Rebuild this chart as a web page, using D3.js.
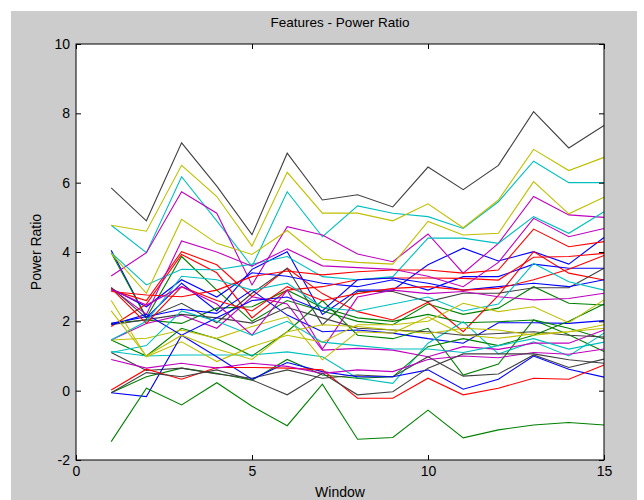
<!DOCTYPE html>
<html><head><meta charset="utf-8">
<script src="https://cdn.jsdelivr.net/npm/d3@7"></script>
<style>body{margin:0;background:#fff}svg{display:block}</style>
</head><body><div id="chart"></div>
<script>
const title = "Features - Power Ratio";
const xLabel = "Window";
const yLabel = "Power Ratio";
const windows = [1,2,3,4,5,6,7,8,9,10,11,12,13,14,15];
const xTicks = [0,5,10,15];
const yTicks = [-2,0,2,4,6,8,10];
const seriesColors = ["#0000ff","#008000","#ff0000","#00bfbf","#bf00bf","#bfbf00","#404040"];

// series values (each 15 windows), grouped by colour
const blue1 = [4.05,2.1,3.1,2.3,3.5,4.01,2.2,2.9,2.9,3.63,4.11,3.74,4.01,3.65,4.42];
const blue2 = [2.95,2.42,3.2,2.7,3.4,3.3,3.1,3.0,3.2,2.9,3.29,3.29,3.65,3.53,3.53];
const blue3 = [1.94,2.13,2.35,2.23,2.9,2.18,1.7,1.75,1.66,1.5,1.37,1.96,1.96,1.94,2.02];
const blue4 = [1.9,2.2,1.6,2.1,2.6,2.7,2.3,3.2,3.25,3.1,2.9,3.0,3.1,3.0,3.2];
const blue5 = [-0.06,-0.17,1.6,0.98,0.33,0.81,0.55,0.4,0.4,0.6,0.04,0.33,1.0,0.62,0.39];
const green1 = [3.98,2.1,3.87,2.9,2.0,2.6,2.3,2.0,1.9,2.5,2.2,2.38,3.0,2.52,2.47];
const green2 = [1.94,2.04,1.94,2.38,2.42,2.9,2.4,2.1,2.0,2.2,1.96,1.99,2.04,1.61,1.13];
const green3 = [1.46,1.0,1.8,1.5,1.0,1.7,2.6,1.6,1.5,1.8,0.45,0.77,2.04,1.8,1.5];
const green4 = [-0.06,0.4,0.65,0.5,0.3,0.9,0.45,0.36,0.4,1.27,1.5,1.3,1.6,2.0,2.5];
const green5 = [-1.47,0.07,-0.41,0.23,-0.45,-1.01,0.19,-1.4,-1.35,-0.56,-1.36,-1.13,-0.99,-0.92,-0.99];
const red1 = [2.9,2.6,4.01,3.63,2.71,3.53,2.8,2.28,2.04,2.55,1.7,2.75,4.01,3.39,3.19];
const red2 = [1.85,2.5,3.93,3.4,2.1,2.9,3.0,3.2,3.25,3.25,3.24,3.19,3.85,3.87,3.96];
const red3 = [2.86,2.76,2.71,2.9,3.29,3.45,3.34,3.43,3.48,3.48,3.39,3.48,4.66,4.15,4.3];
const red4 = [2.95,1.94,3.0,2.6,2.3,3.0,2.6,2.8,2.95,3.0,2.9,2.95,3.2,3.5,3.9];
const red5 = [0.02,0.62,0.33,0.67,0.67,0.65,0.6,-0.22,-0.22,0.36,-0.12,0.07,0.36,0.33,0.74];
const cyan1 = [4.77,3.98,6.17,4.9,3.58,5.74,4.44,5.33,5.12,5.02,4.68,5.45,6.62,6.0,6.0];
const cyan2 = [3.98,3.05,3.5,3.49,3.65,3.87,3.29,3.2,3.29,4.4,4.4,4.25,5.02,4.54,5.16];
const cyan3 = [1.13,1.0,1.03,1.03,1.03,1.12,0.98,0.36,0.21,1.37,1.99,1.06,1.41,1.0,1.66];
const cyan4 = [1.46,2.0,3.3,3.2,2.9,3.1,2.4,2.3,2.5,2.7,2.3,2.5,3.67,3.14,2.9];
const cyan5 = [1.1,1.3,2.3,2.0,1.6,2.0,1.4,1.3,1.2,1.2,1.1,1.3,1.5,1.2,1.4];
const magenta1 = [3.31,3.98,5.74,5.12,3.05,4.73,4.49,3.94,3.72,4.52,3.39,4.25,5.6,5.07,5.0];
const magenta2 = [2.95,2.2,4.32,4.0,3.59,4.09,3.6,3.55,3.5,3.3,3.0,3.7,4.97,4.44,4.68];
const magenta3 = [1.46,1.94,2.18,1.8,2.71,2.5,1.17,1.22,1.17,0.98,1.27,1.19,1.37,1.37,1.75];
const magenta4 = [2.92,2.47,3.0,2.5,1.6,2.9,1.2,2.7,2.9,2.8,2.86,2.71,2.62,2.66,2.81];
const magenta5 = [0.9,0.65,0.79,0.65,0.79,0.7,0.5,0.6,0.55,0.9,1.0,0.95,1.1,1.05,1.2];
const yellow1 = [4.77,4.6,6.5,5.6,4.17,6.3,5.12,5.12,4.9,5.39,4.7,5.5,6.96,6.35,6.73];
const yellow2 = [3.96,2.81,4.94,4.25,3.93,4.62,3.79,3.7,3.65,4.88,4.49,4.54,6.03,5.1,5.58];
const yellow3 = [1.46,1.51,1.75,1.51,1.85,2.13,0.89,1.7,1.66,2.13,1.61,1.51,1.64,1.7,1.8];
const yellow4 = [2.6,0.98,1.41,0.84,1.27,1.6,1.4,1.9,1.9,2.0,2.52,2.28,2.42,1.96,2.62];
const yellow5 = [2.3,1.0,1.6,1.2,0.9,1.7,1.9,1.85,1.75,1.65,1.8,1.75,1.6,1.7,1.9];
const gray1 = [5.85,4.9,7.15,5.9,4.5,6.85,5.5,5.65,5.3,6.45,5.8,6.5,8.05,7.0,7.65];
const gray2 = [2.98,2.09,2.52,1.96,2.81,3.53,1.9,2.86,2.86,2.57,2.81,2.81,2.97,2.97,3.53];
const gray3 = [1.9,2.05,2.2,2.1,1.95,2.4,2.1,1.8,1.75,1.7,1.6,1.65,1.7,1.6,1.55];
const gray4 = [1.1,0.58,0.65,0.48,0.36,0.6,0.36,0.45,0.4,0.98,0.42,0.48,1.03,0.67,0.91];
const gray5 = [-0.06,0.52,0.4,0.6,0.31,-0.12,0.5,-0.12,-0.03,0.65,1.06,1.06,1.06,0.89,0.79];

const series = [
  blue1,green1,red1,cyan1,magenta1,yellow1,gray1,
  blue2,green2,red2,cyan2,magenta2,yellow2,gray2,
  blue3,green3,red3,cyan3,magenta3,yellow3,gray3,
  blue4,green4,red4,cyan4,magenta4,yellow4,gray4,
  blue5,green5,red5,cyan5,magenta5,yellow5,gray5
];

const W = 644, H = 500;
const L = 76, R = 604, T = 44, B = 460;
const svg = d3.select("#chart").append("svg").attr("width", W).attr("height", H);
svg.append("rect").attr("x", 11).attr("y", 11).attr("width", 626).attr("height", 489).attr("fill", "#cccccc");
svg.append("rect").attr("x", L).attr("y", T).attr("width", R - L).attr("height", B - T).attr("fill", "#ffffff");

const x = d3.scaleLinear().domain([0, 15]).range([L, R]);
const y = d3.scaleLinear().domain([-2, 10]).range([B, T]);

const line = d3.line().x((d, i) => x(windows[i])).y(d => y(d));
const g = svg.append("g");
series.forEach((s, i) => {
  g.append("path").attr("d", line(s)).attr("fill", "none")
    .attr("stroke", seriesColors[i % 7]).attr("stroke-width", 1.1);
});

const font = "Liberation Sans, Arial, sans-serif";
const fmt = d => String(d);
const tl = 5;
const axB = d3.axisBottom(x).tickValues(xTicks).tickFormat(fmt).tickSizeInner(-tl).tickSizeOuter(0).tickPadding(6);
const axT = d3.axisTop(x).tickValues(xTicks).tickSizeInner(-tl).tickSizeOuter(0).tickFormat("");
const axL = d3.axisLeft(y).tickValues(yTicks).tickFormat(fmt).tickSizeInner(-tl).tickSizeOuter(0).tickPadding(6);
const axR = d3.axisRight(y).tickValues(yTicks).tickSizeInner(-tl).tickSizeOuter(0).tickFormat("");
[[axB, `translate(0,${B})`], [axT, `translate(0,${T})`], [axL, `translate(${L},0)`], [axR, `translate(${R},0)`]].forEach(([a, t]) => {
  const gg = svg.append("g").attr("transform", t).call(a);
  gg.select(".domain").remove();
  gg.selectAll("line").attr("stroke", "#000");
  gg.selectAll("text").attr("font-family", font).attr("font-size", 14).attr("fill", "#000");
});
svg.append("rect").attr("x", L).attr("y", T).attr("width", R - L).attr("height", B - T)
  .attr("fill", "none").attr("stroke", "#000").attr("stroke-width", 1);

svg.append("text").attr("x", (L + R) / 2).attr("y", 27).attr("text-anchor", "middle")
  .attr("font-family", font).attr("font-size", 13.5).text(title);
svg.append("text").attr("x", (L + R) / 2).attr("y", 497).attr("text-anchor", "middle")
  .attr("font-family", font).attr("font-size", 14).text(xLabel);
svg.append("text").attr("transform", `translate(41,${(T + B) / 2}) rotate(-90)`).attr("text-anchor", "middle")
  .attr("font-family", font).attr("font-size", 14).text(yLabel);
</script></body></html>
